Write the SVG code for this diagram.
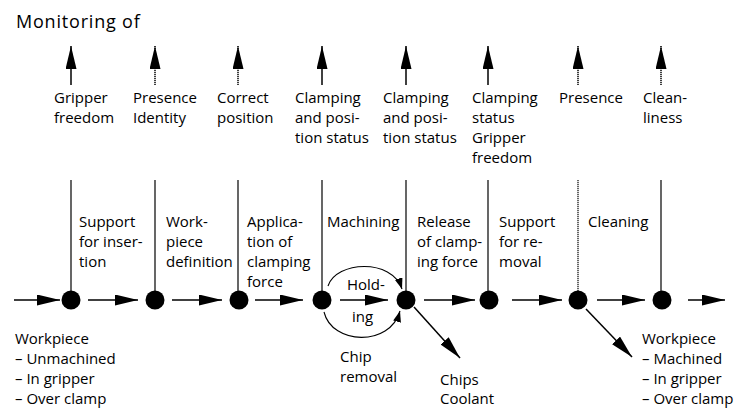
<svg xmlns="http://www.w3.org/2000/svg" width="737" height="412" viewBox="0 0 737 412">
  <defs>
    <marker id="head" markerUnits="userSpaceOnUse" markerWidth="25" markerHeight="13" refX="23" refY="5.5" orient="auto">
      <path d="M0,0 L23,5.5 L0,11 Z" fill="#000"/>
    </marker>
    <marker id="headSmall" markerUnits="userSpaceOnUse" markerWidth="13" markerHeight="9" refX="11" refY="4" orient="auto">
      <path d="M0,0 L11,4 L0,8 Z" fill="#000"/>
    </marker>
  </defs>
  <style>
    text { font-family: "Open Sans", "Liberation Sans", sans-serif; font-size: 15px; fill: #000; }
    .title { font-size: 18px; letter-spacing: 0.8px; }
    .stem { stroke: #000; stroke-width: 1.2; fill: none; }
    .dotted { stroke-dasharray: 1.2 0.8; }
    .up { stroke: #000; stroke-width: 1.5; fill: none; marker-end: url(#head); }
    .flow { stroke: #000; stroke-width: 1.5; fill: none; marker-end: url(#head); }
    .arc { stroke: #000; stroke-width: 1.1; fill: none; marker-end: url(#headSmall); }
    .dot { fill: #000; }
  </style>
  <rect width="737" height="412" fill="#fff"/>

  <text class="title" x="16" y="28">Monitoring of</text>

  <!-- stations: dot, stem, monitoring arrow and labels -->
  <g id="station1">
    <line class="up" x1="71" y1="85" x2="71" y2="46"/>
    <text x="54" y="103">Gripper</text>
    <text x="54" y="123">freedom</text>
    <line class="stem" x1="71" y1="180" x2="71" y2="292"/>
    <text x="79" y="227">Support</text>
    <text x="79" y="247">for inser-</text>
    <text x="79" y="267">tion</text>
    <circle class="dot" cx="71" cy="300" r="9.5"/>
  </g>
  <g id="station2">
    <line class="up dotted" x1="155" y1="85" x2="155" y2="46"/>
    <text x="133" y="103">Presence</text>
    <text x="133" y="123">Identity</text>
    <line class="stem" x1="155" y1="180" x2="155" y2="292"/>
    <text x="166" y="227">Work-</text>
    <text x="166" y="247">piece</text>
    <text x="166" y="267">definition</text>
    <circle class="dot" cx="155" cy="300" r="9.5"/>
  </g>
  <g id="station3">
    <line class="up dotted" x1="238" y1="85" x2="238" y2="46"/>
    <text x="217" y="103">Correct</text>
    <text x="217" y="123">position</text>
    <line class="stem" x1="238" y1="180" x2="238" y2="292"/>
    <text x="247" y="227">Applica-</text>
    <text x="247" y="247">tion of</text>
    <text x="247" y="267">clamping</text>
    <text x="247" y="287">force</text>
    <circle class="dot" cx="239" cy="300" r="9.5"/>
  </g>
  <g id="station4">
    <line class="up" x1="322" y1="85" x2="322" y2="46"/>
    <text x="295" y="103">Clamping</text>
    <text x="295" y="123">and posi-</text>
    <text x="295" y="143">tion status</text>
    <line class="stem" x1="322" y1="180" x2="322" y2="292"/>
    <text x="327" y="227">Machining</text>
    <circle class="dot" cx="322" cy="300" r="9.5"/>
  </g>
  <g id="station5">
    <line class="up" x1="406" y1="85" x2="406" y2="46"/>
    <text x="383" y="103">Clamping</text>
    <text x="383" y="123">and posi-</text>
    <text x="383" y="143">tion status</text>
    <line class="stem" x1="406" y1="180" x2="406" y2="292"/>
    <text x="417" y="227">Release</text>
    <text x="417" y="247">of clamp-</text>
    <text x="417" y="267">ing force</text>
    <circle class="dot" cx="406" cy="300" r="9.5"/>
  </g>
  <g id="station6">
    <line class="up" x1="488" y1="85" x2="488" y2="46"/>
    <text x="472" y="103">Clamping</text>
    <text x="472" y="123">status</text>
    <text x="472" y="143">Gripper</text>
    <text x="472" y="163">freedom</text>
    <line class="stem" x1="488" y1="180" x2="488" y2="292"/>
    <text x="499" y="227">Support</text>
    <text x="499" y="247">for re-</text>
    <text x="499" y="267">moval</text>
    <circle class="dot" cx="489" cy="300" r="9.5"/>
  </g>
  <g id="station7">
    <line class="up dotted" x1="578" y1="85" x2="578" y2="46"/>
    <text x="559" y="103">Presence</text>
    <line class="stem dotted" x1="578" y1="180" x2="578" y2="292"/>
    <text x="588" y="227">Cleaning</text>
    <circle class="dot" cx="578" cy="300" r="9.5"/>
  </g>
  <g id="station8">
    <line class="up dotted" x1="661" y1="85" x2="661" y2="46"/>
    <text x="643" y="103">Clean-</text>
    <text x="643" y="123">liness</text>
    <line class="stem" x1="661" y1="180" x2="661" y2="292"/>
    <circle class="dot" cx="662" cy="300" r="9.5"/>
  </g>

  <!-- input and output states of the workpiece -->
  <g id="input">
    <text x="15" y="344">Workpiece</text>
    <text x="15" y="364">– Unmachined</text>
    <text x="15" y="384">– In gripper</text>
    <text x="15" y="404">– Over clamp</text>
  </g>
  <g id="output">
    <text x="642" y="344">Workpiece</text>
    <text x="642" y="364">– Machined</text>
    <text x="642" y="384">– In gripper</text>
    <text x="642" y="404">– Over clamp</text>
  </g>
  <g id="chips">
    <text x="440" y="385">Chips</text>
    <text x="440" y="404">Coolant</text>
  </g>
  <g id="chipRemoval">
    <text x="340" y="362">Chip</text>
    <text x="340" y="382">removal</text>
  </g>
  <g id="holding">
    <text x="347" y="290">Hold-</text>
    <text x="352" y="322">ing</text>
  </g>

  <!-- flow connectors -->
  <g id="connectors">
    <line class="flow" x1="14" y1="300" x2="60" y2="300"/>
    <line class="flow" x1="88" y1="300" x2="138" y2="300"/>
    <line class="flow" x1="172" y1="300" x2="222" y2="300"/>
    <line class="flow" x1="255" y1="300" x2="303" y2="300"/>
    <line class="flow" x1="340" y1="300" x2="388" y2="300"/>
    <line class="flow" x1="424" y1="300" x2="475" y2="300"/>
    <line class="flow" x1="512" y1="300" x2="562" y2="300"/>
    <line class="flow" x1="597" y1="300" x2="645" y2="300"/>
    <line class="flow" x1="688" y1="300" x2="725" y2="300"/>
    <path class="arc" d="M328,286 C336,261 392,258 402,289"/>
    <path class="arc" d="M324,312 C332,345 390,347 400,311"/>
    <line class="flow" x1="414" y1="307" x2="460" y2="358"/>
    <line class="flow" x1="586" y1="309" x2="632" y2="357"/>
  </g>
</svg>
